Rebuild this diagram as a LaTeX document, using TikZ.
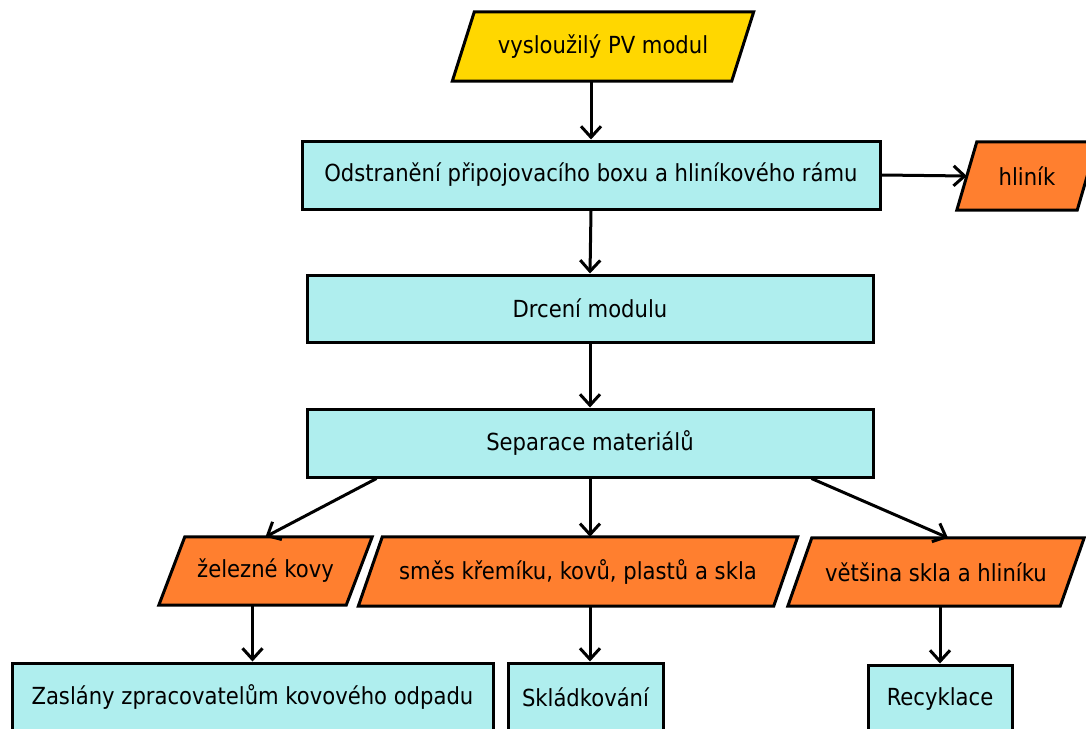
\documentclass[tikz,border=0pt]{standalone}
\usepackage{fontspec}
\setmainfont{DejaVu Sans Condensed}
\usetikzlibrary{arrows.meta,backgrounds}
\definecolor{boxc}{HTML}{AFEEEE}
\definecolor{inc}{HTML}{FFD700}
\definecolor{outc}{HTML}{FF7F2F}
\begin{document}
\begin{tikzpicture}[x=1pt,y=-1pt, font=\fontsize{23.5}{28}\selectfont,
  proc/.style={draw, line width=3pt, fill=boxc, minimum height=68pt, inner sep=0pt},
  para/.style={inner sep=0pt, minimum height=68pt},
  arr/.style={line width=3pt, -{Straight Barb[length=11pt,width=20pt]}},
  pshape/.style={draw, line width=3pt, line join=miter}]
\useasboundingbox (0,0) rectangle (1086,728);
\node[para, minimum width=279pt, minimum height=69pt] (v) at (603,46.5) {vysloužilý PV modul};
\node[proc, minimum width=578pt] (o) at (591,175) {Odstranění připojovacího boxu a hliníkového rámu};
\node[para, minimum width=120pt] (h) at (1027,176) {hliník};
\node[proc, minimum width=566pt, minimum height=67pt] (d) at (590,308.5) {Drcení modulu};
\node[proc, minimum width=566pt] (s) at (590,443) {Separace materiálů};
\node[para, minimum width=187pt] (e) at (265.5,571) {železné kovy};
\node[para, minimum width=415pt, minimum height=69pt] (m) at (578,571.5) {směs křemíku, kovů, plastů a skla};
\node[para, minimum width=272pt] (g) at (936,572) {většina skla a hliníku};
\node[proc, minimum width=481pt] (z) at (252.5,697) {Zaslány zpracovatelům kovového odpadu};
\node[proc, minimum width=155pt] (k) at (585.5,697) {Skládkování};
\node[proc, minimum width=144pt] (r) at (940,699) {Recyklace};
\begin{scope}[on background layer]
\foreach \n/\c/\k in {v/inc/11, h/outc/10, e/outc/13, m/outc/12, g/outc/12}
  \draw[pshape, fill=\c] ([xshift=\k pt]\n.north west) -- ([xshift=\k pt]\n.north east) -- ([xshift=-\k pt]\n.south east) -- ([xshift=-\k pt]\n.south west) -- cycle;
\end{scope}
\draw[arr] (v.south -| o.north) -- (o.north);
\draw[arr] (o.east) -- (h.west);
\draw[arr] (o.south) -- (d.north);
\draw[arr] (d.south) -- (s.north);
\draw[arr] ([xshift=71pt]s.south west) -- (e.north);
\draw[arr] (s.south) -- (s.south |- m.north);
\draw[arr] ([xshift=-63pt]s.south east) -- ([xshift=12pt]g.north);
\draw[arr] (z.north |- e.south) -- (z.north);
\draw[arr] (s.south |- m.south) -- (s.south |- k.north);
\draw[arr] (r.north |- g.south) -- (r.north);
\end{tikzpicture}
\end{document}
